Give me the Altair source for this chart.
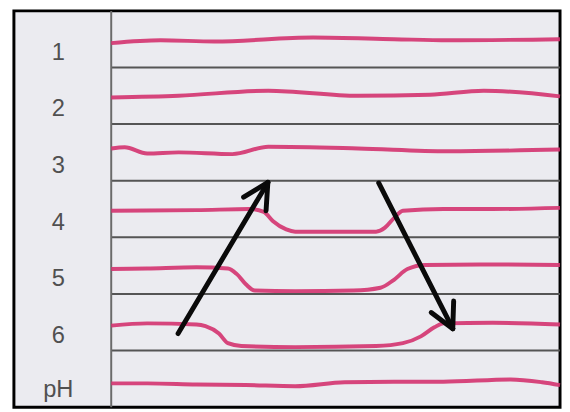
import altair as alt
import pandas as pd

# Row labels (top to bottom)
rows = ["1", "2", "3", "4", "5", "6", "pH"]

# Trace readings: x in time units (0-100), level = position within row (0 bottom, 1 top)
x1 = [0, 11, 23, 45, 63, 75, 100]
l1 = [0.43, 0.48, 0.46, 0.53, 0.50, 0.48, 0.50]
x2 = [0, 15, 35, 55, 71, 83, 100]
l2 = [0.47, 0.50, 0.59, 0.50, 0.52, 0.59, 0.49]
x3 = [0, 3, 8, 15, 27, 35, 55, 75, 100]
l3 = [0.57, 0.59, 0.48, 0.50, 0.47, 0.60, 0.57, 0.52, 0.55]
x4 = [0, 19, 31, 34, 36, 39, 41, 59, 61, 63, 65, 74, 85, 100]
l4 = [0.47, 0.48, 0.50, 0.45, 0.29, 0.14, 0.10, 0.10, 0.17, 0.34, 0.47, 0.50, 0.50, 0.52]
x5 = [0, 8, 19, 26, 28, 30, 32, 41, 54, 60, 63, 66, 70, 85, 100]
l5 = [0.44, 0.45, 0.47, 0.45, 0.35, 0.17, 0.06, 0.05, 0.06, 0.11, 0.25, 0.44, 0.51, 0.52, 0.51]
x6 = [0, 8, 19, 21, 24, 26, 29, 41, 59, 65, 69, 72, 74, 85, 100]
l6 = [0.44, 0.48, 0.46, 0.43, 0.30, 0.13, 0.08, 0.06, 0.08, 0.13, 0.25, 0.41, 0.48, 0.49, 0.46]
xph = [0, 8, 19, 30, 41, 52, 63, 74, 89, 96, 100]
lph = [0.42, 0.42, 0.40, 0.39, 0.37, 0.44, 0.45, 0.45, 0.49, 0.44, 0.39]

trace_x = [x1, x2, x3, x4, x5, x6, xph]
trace_l = [l1, l2, l3, l4, l5, l6, lph]

# Arrow segments (x, y, x2, y2) in chart units
arrow_x = [14.9, 29.5, 34.9, 59.6, 71.3, 76.1]
arrow_y = [1.30, 3.71, 3.97, 3.96, 1.672, 1.386]
arrow_x2 = [34.9, 34.9, 34.5, 76.1, 76.1, 76.3]
arrow_y2 = [3.97, 3.97, 3.47, 1.386, 1.386, 1.874]

n = len(rows)
recs = []
for i, (xs, ls) in enumerate(zip(trace_x, trace_l)):
    for xv, lv in zip(xs, ls):
        recs.append({"row": rows[i], "x": xv, "y": (n - 1 - i) + lv})
traces = pd.DataFrame(recs)

labels = pd.DataFrame({
    "row": rows,
    "x": [-11.8] * n,
    "y": [(n - 1 - i) + (0.3 if r == "pH" else 0.26) for i, r in enumerate(rows)],
})
seps = pd.DataFrame({"y": list(range(1, n)), "x": [0] * (n - 1), "x2": [100] * (n - 1)})
vline = pd.DataFrame({"x": [0], "y": [0], "y2": [n]})
arrows = pd.DataFrame({"x": arrow_x, "y": arrow_y, "x2": arrow_x2, "y2": arrow_y2})

xs = alt.Scale(domain=[-21.68, 100], nice=False, zero=False)
ys = alt.Scale(domain=[0, n], nice=False, zero=False)
X = lambda f: alt.X(f, type="quantitative", scale=xs, axis=None)
Y = lambda f: alt.Y(f, type="quantitative", scale=ys, axis=None)

sep_layer = alt.Chart(seps).mark_rule(color="#555555", strokeWidth=2).encode(
    x=X("x"), x2="x2", y=Y("y"))
v_layer = alt.Chart(vline).mark_rule(color="#6a6a6a", strokeWidth=2).encode(
    x=X("x"), y=Y("y"), y2="y2")
trace_layer = alt.Chart(traces).mark_line(
    color="#d4336f", strokeWidth=4, interpolate="monotone", opacity=0.9
).encode(x=X("x"), y=Y("y"), detail="row:N")
arrow_layer = alt.Chart(arrows).mark_rule(
    color="#0a0a0a", strokeWidth=5, strokeCap="round").encode(
    x=X("x"), y=Y("y"), x2="x2", y2="y2")
label_layer = alt.Chart(labels).mark_text(
    font="Liberation Sans", fontSize=24, color="#505050", align="center", baseline="middle"
).encode(x=X("x"), y=Y("y"), text="row:N")

chart = alt.layer(sep_layer, v_layer, trace_layer, arrow_layer, label_layer).properties(
    width=554, height=402,
    autosize=alt.AutoSizeParams(type="none"),
    padding={"left": 6, "top": 0, "right": 2, "bottom": 2},
    background="white",
).configure_view(fill="#ebebf0", stroke="#000000", strokeWidth=3)

chart.save("out.html", embed_options={"renderer": "svg", "actions": False})
